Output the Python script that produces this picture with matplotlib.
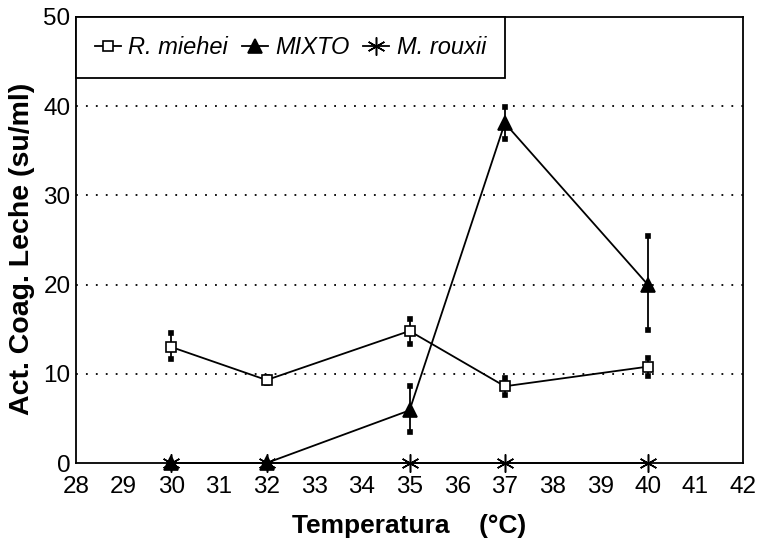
import numpy as np
from matplotlib import pyplot as plt

plt.rcParams['font.family'] = ['Liberation Sans', 'DejaVu Sans']

# temperatures (°C)
temps = [30, 32, 35, 37, 40]

# R. miehei
miehei = [13.0, 9.3, 14.8, 8.6, 10.8]
miehei_lo = [1.3, 0.3, 1.5, 1.0, 1.1]
miehei_hi = [1.6, 0.3, 1.3, 0.9, 1.0]

# MIXTO
mixto = [0.0, 0.0, 5.9, 38.1, 20.0]
mixto_lo = [0.0, 0.0, 2.4, 1.8, 5.1]
mixto_hi = [0.0, 0.0, 2.7, 1.8, 5.5]

# M. rouxii
rouxii = [0.0, 0.0, 0.0, 0.0, 0.0]

series_names = ['R. miehei', 'MIXTO', 'M. rouxii']
x_ticks = list(range(28, 43))
y_ticks = [0, 10, 20, 30, 40, 50]

fig = plt.figure(figsize=(7.61, 5.46), dpi=100)
ax = fig.add_axes([0.0999, 0.152, 0.8765, 0.817])

# dotted reference lines
for yv in y_ticks[1:-1]:
    ax.axhline(yv, color='black', lw=1.3, linestyle=(0, (1, 4.5)), zorder=1)


def draw_series(xs, ys, lo, hi, marker, ms, mfc):
    line = ax.errorbar(xs, ys, yerr=[lo, hi], color='black', lw=1.3, elinewidth=1.3,
                       capsize=2, marker=marker, ms=ms, mfc=mfc, mec='black', mew=1.2,
                       zorder=3)
    for cap in line[1]:
        cap.set_marker('s')
        cap.set_markersize(3.5)
        cap.set_clip_on(False)
    line[0].set_clip_on(False)
    return line[0]


h1 = draw_series(temps, miehei, miehei_lo, miehei_hi, 's', 7, 'white')
h2 = draw_series(temps, mixto, mixto_lo, mixto_hi, '^', 10, 'black')
h3, = ax.plot(temps, rouxii, color='black', lw=1.3, marker=(6, 2, 0), ms=13, mew=1.1,
              zorder=4, clip_on=False)

ax.set_xlim(28, 42)
ax.set_ylim(0, 50)
ax.set_xticks(x_ticks)
ax.set_yticks(y_ticks)
ax.tick_params(length=0, labelsize=17.5)
ax.tick_params(axis='x', pad=9)
ax.tick_params(axis='y', pad=4)
for s in ax.spines.values():
    s.set_linewidth(1.3)

ax.set_xlabel('Temperatura    (°C)', fontsize=19, fontweight='bold', labelpad=12)
ax.set_ylabel('Act. Coag. Leche (su/ml)', fontsize=20.5, fontweight='bold')
ax.yaxis.set_label_coords(-0.062, 0.48)

leg = ax.legend([h1, h2, h3], series_names, loc='upper left', bbox_to_anchor=(0, 1),
                borderaxespad=0, ncol=3, fancybox=False, edgecolor='black', framealpha=1,
                prop={'style': 'italic', 'size': 17}, handlelength=1.1,
                handletextpad=0.3, columnspacing=0.6, borderpad=0.8)
leg.get_frame().set_linewidth(1.3)

fig.savefig('out.png', dpi=100)
